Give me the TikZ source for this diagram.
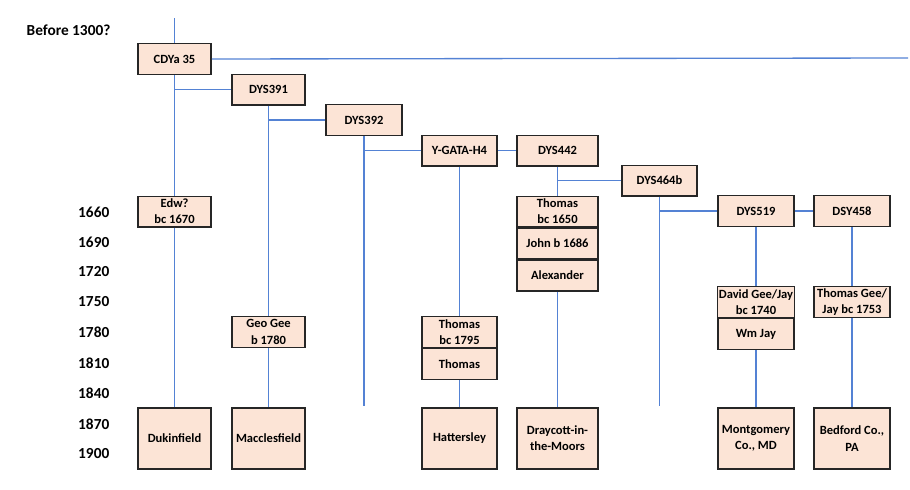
\documentclass[tikz,border=0pt]{standalone}
\usepackage{fontspec}
\setmainfont{Carlito}
\usepackage{tikz}
\usetikzlibrary{positioning}
\definecolor{peach}{RGB}{252,228,214}
\definecolor{linkblue}{RGB}{84,130,212}
\tikzset{
  gbox/.style={draw=black!85, line width=1.1pt, fill=peach, minimum width=55pt, minimum height=22.9pt,
    inner sep=1pt, align=center, font=\bfseries\fontsize{9.4}{12.2}\selectfont},
  place/.style={gbox, minimum height=45.75pt},
  link/.style={draw=linkblue, line width=1pt},
  year/.style={anchor=east, font=\bfseries\fontsize{11.5}{13}\selectfont}
}

\begin{document}
\begin{tikzpicture}[x=0.75pt,y=-0.75pt]
      \useasboundingbox (0,0) rectangle (910,489);
      % years down the left side
      \node[anchor=west, font=\bfseries\fontsize{11.5}{13}\selectfont] at (22,30) (before){Before 1300?};
      \node[year] at (114,212) (y1660){1660};
      \node[year] at (114,242) (y1690){1690};
      \node[year] at (114,272) (y1720){1720};
      \node[year] at (114,302) (y1750){1750};
      \node[year] at (114,332) (y1780){1780};
      \node[year] at (114,363) (y1810){1810};
      \node[year] at (114,393) (y1840){1840};
      \node[year] at (114,424) (y1870){1870};
      \node[year] at (114,454) (y1900){1900};

      % markers, stepping down to the right
      \node[gbox] at (174.5,59) (cdya){CDYa 35};
      \node[gbox] at (268.5,89.5) (d391){DYS391};
      \node[gbox, minimum width=57pt] at (364,120) (d392){DYS392};
      \node[gbox, minimum width=56.25pt] at (459.5,150.5) (ygata){Y-GATA-H4};
      \node[gbox, minimum width=60.75pt] at (557.5,150.5) (d442){DYS442};
      \node[gbox, minimum width=56.25pt] at (659.5,180.5) (d464){DYS464b};
      \node[gbox, minimum width=57pt] at (756,211) (d519){DYS519};
      \node[gbox, minimum width=57pt] at (852,211) (d458){DSY458};

      % people
      \node[gbox] at (174.5,211.5) (edw){Edw?\\bc 1670};
      \node[gbox] at (268.5,332) (geo){Geo Gee\\b 1780};
      \node[gbox, minimum width=56.25pt] at (459.5,332) (thos1795){Thomas\\bc 1795};
      \node[gbox, minimum width=56.25pt, below=0pt of thos1795] (thos){Thomas};
      \node[gbox, minimum width=60.75pt] at (557.5,211.5) (thos1650){Thomas\\bc 1650};
      \node[gbox, minimum width=60.75pt, below=0pt of thos1650] (john){John b 1686};
      \node[gbox, minimum width=60.75pt, below=0pt of john] (alex){Alexander};
      \node[gbox, minimum width=57pt] at (756,302) (david){David Gee/Jay\\bc 1740};
      \node[gbox, minimum width=57pt, below=0pt of david] (wm){Wm Jay};
      \node[gbox, minimum width=57pt] at (852,302) (thos1753){Thomas Gee/\\Jay bc 1753};

      % places
      \node[place] at (174.5,438.5) (duk){Dukinfield};
      \node[place] at (268.5,438.5) (mac){Macclesfield};
      \node[place, minimum width=56.25pt] at (459.5,438.5) (hat){Hattersley};
      \node[place, minimum width=60.75pt] at (557.5,438.5) (dray){Draycott-in-\\the-Moors};
      \node[place, minimum width=57pt] at (756,438.5) (mont){Montgomery\\Co., MD};
      \node[place, minimum width=57pt] at (852,438.5) (bed){Bedford Co.,\\PA};

      \coordinate (top) at (174.5,18);
      \coordinate (far) at (908,58);
      \coordinate (end392) at (364,406);
      \coordinate (end464) at (659.5,406);

      % lines of descent
      \draw[link] (top) -- (cdya);
      \draw[link] (cdya.east) -- (far);
      \draw[link] (cdya) -- (edw);
      \draw[link] (edw) -- (duk);
      \draw[link] (d391.west) -- (d391.west -| cdya.south);
      \draw[link] (d391) -- (geo);
      \draw[link] (geo) -- (mac);
      \draw[link] (d392.west) -- (d392.west -| d391.south);
      \draw[link] (d392.south) -- (end392);
      \draw[link] (ygata.west) -- (ygata.west -| d392.south);
      \draw[link] (ygata) -- (d442);
      \draw[link] (ygata) -- (thos1795);
      \draw[link] (thos) -- (hat);
      \draw[link] (d442) -- (thos1650);
      \draw[link] (alex) -- (dray);
      \draw[link] (d464.west) -- (d464.west -| d442.south);
      \draw[link] (d464.south) -- (end464);
      \draw[link] (d519.west) -- (d519.west -| d464.south);
      \draw[link] (d519) -- (d458);
      \draw[link] (d519) -- (david);
      \draw[link] (wm) -- (mont);
      \draw[link] (d458) -- (thos1753);
      \draw[link] (thos1753) -- (bed);
    \end{tikzpicture}
\end{document}
